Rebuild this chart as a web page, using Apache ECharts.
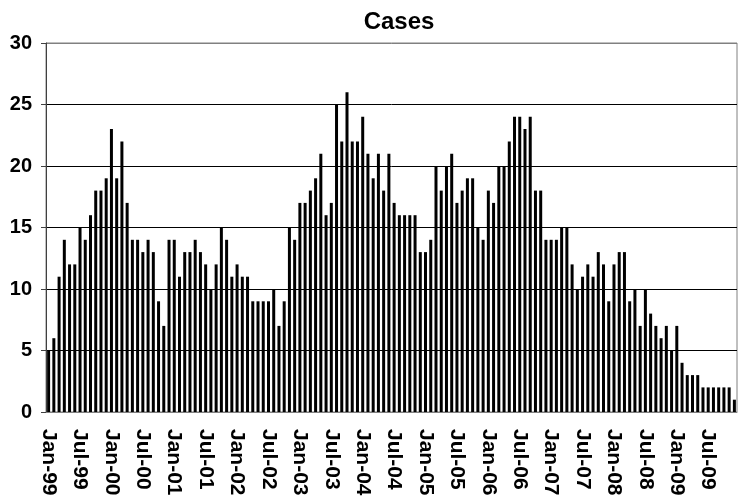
<!DOCTYPE html>
<html>
<head>
<meta charset="utf-8">
<script src="https://cdn.jsdelivr.net/npm/echarts@6/dist/echarts.min.js"></script>
<style>
  html, body { margin: 0; padding: 0; background: #fff; }
  #chart { width: 738px; height: 502px; }
</style>
</head>
<body>
<div id="chart"></div>
<script>
// monthly case counts, Jan-99 .. Dec-09
var years = ['99', '00', '01', '02', '03', '04', '05', '06', '07', '08', '09'];
var monthNames = ['Jan', 'Feb', 'Mar', 'Apr', 'May', 'Jun', 'Jul', 'Aug', 'Sep', 'Oct', 'Nov', 'Dec'];

var cases1999 = [5, 6, 11, 14, 12, 12, 15, 14, 16, 18, 18, 19];
var cases2000 = [23, 19, 22, 17, 14, 14, 13, 14, 13, 9, 7, 14];
var cases2001 = [14, 11, 13, 13, 14, 13, 12, 10, 12, 15, 14, 11];
var cases2002 = [12, 11, 11, 9, 9, 9, 9, 10, 7, 9, 15, 14];
var cases2003 = [17, 17, 18, 19, 21, 16, 17, 25, 22, 26, 22, 22];
var cases2004 = [24, 21, 19, 21, 18, 21, 17, 16, 16, 16, 16, 13];
var cases2005 = [13, 14, 20, 18, 20, 21, 17, 18, 19, 19, 15, 14];
var cases2006 = [18, 17, 20, 20, 22, 24, 24, 23, 24, 18, 18, 14];
var cases2007 = [14, 14, 15, 15, 12, 10, 11, 12, 11, 13, 12, 9];
var cases2008 = [12, 13, 13, 9, 10, 7, 10, 8, 7, 6, 7, 5];
var cases2009 = [7, 4, 3, 3, 3, 2, 2, 2, 2, 2, 2, 1];

var yTicks = [0, 5, 10, 15, 20, 25, 30];

var categories = [];
for (var i = 0; i < years.length; i++) {
    for (var m = 0; m < 12; m++) {
        categories.push(monthNames[m] + '-' + years[i]);
    }
}
var values = [].concat(cases1999, cases2000, cases2001, cases2002, cases2003,
    cases2004, cases2005, cases2006, cases2007, cases2008, cases2009);

var myChart = echarts.init(document.getElementById('chart'));

var option = {
    animation: false,
    title: {
        text: 'Cases',
        left: 394,
        top: 5,
        textAlign: 'center',
        textStyle: { fontFamily: 'Liberation Sans, Arial', fontWeight: 'bold', fontSize: 24, color: '#000' }
    },
    grid: {
        left: 46, right: 1, top: 43, bottom: 90,
        show: true, borderColor: '#808080', borderWidth: 1, backgroundColor: '#fff'
    },
    xAxis: {
        type: 'category',
        data: categories,
        boundaryGap: true,
        axisLine: { lineStyle: { color: '#808080', width: 1 } },
        axisTick: { interval: 5, length: 6, lineStyle: { color: '#808080' } },
        axisLabel: {
            interval: 5,
            rotate: -90,
            margin: 17,
            color: '#000',
            fontFamily: 'Liberation Sans, Arial',
            fontWeight: 'bold',
            fontSize: 21
        }
    },
    yAxis: {
        type: 'value',
        min: yTicks[0],
        max: yTicks[yTicks.length - 1],
        interval: 5,
        axisLine: { show: true, lineStyle: { color: '#404040', width: 1 } },
        axisTick: { show: true, length: 5, lineStyle: { color: '#404040' } },
        axisLabel: {
            margin: 14,
            color: '#000',
            fontFamily: 'Liberation Sans, Arial',
            fontWeight: 'bold',
            fontSize: 20
        },
        splitLine: {
            show: true,
            lineStyle: { color: ['#808080', '#000', '#000', '#000', '#000', '#000', '#808080'], width: 1 }
        }
    },
    series: [{
        name: 'Cases',
        type: 'bar',
        data: values,
        barWidth: 3,
        itemStyle: { color: '#000' }
    }]
};

myChart.setOption(option);
</script>
</body>
</html>
